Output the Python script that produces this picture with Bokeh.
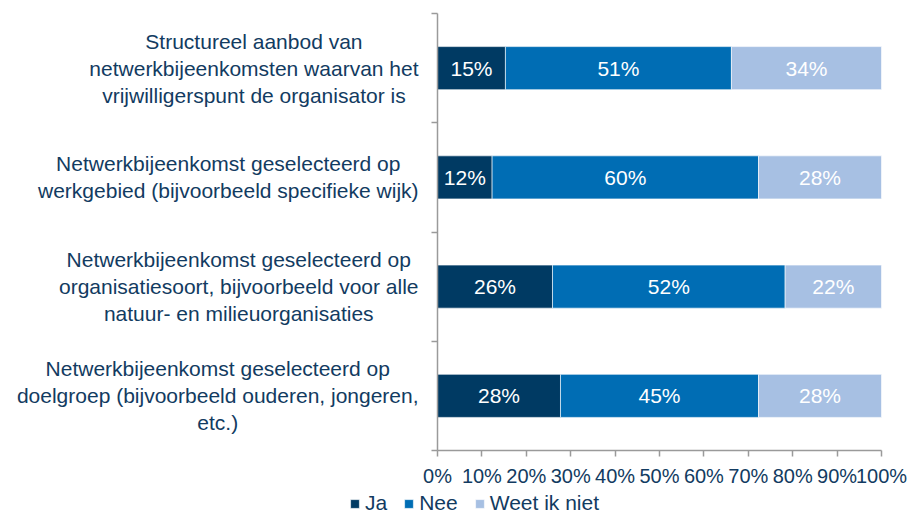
import numpy as np
from bokeh.plotting import figure
from bokeh.models import (ColumnDataSource, Range1d, LinearAxis, FixedTicker,
                          NumeralTickFormatter)
from bokeh.core.properties import value
from bokeh.embed import file_html
from bokeh.resources import INLINE

# ---------------- data ----------------
categories = [
    "Structureel aanbod van\nnetwerkbijeenkomsten waarvan het\nvrijwilligerspunt de organisator is",
    "Netwerkbijeenkomst geselecteerd op\nwerkgebied (bijvoorbeeld specifieke wijk)",
    "Netwerkbijeenkomst geselecteerd op\norganisatiesoort, bijvoorbeeld voor alle\nnatuur- en milieuorganisaties",
    "Netwerkbijeenkomst geselecteerd op\ndoelgroep (bijvoorbeeld ouderen, jongeren,\netc.)",
]
series_names = ["Ja", "Nee", "Weet ik niet"]
ja = [15.3, 12.3, 25.9, 27.7]
nee = [50.9, 60.0, 52.4, 44.6]
weet = [33.8, 27.7, 21.7, 27.7]
x_ticks = [0.0, 0.1, 0.2, 0.3, 0.4, 0.5, 0.6, 0.7, 0.8, 0.9, 1.0]

# ---------------- styles ----------------
colors = ["#003A63", "#006DB4", "#A7C0E3"]
text_color = "#123B61"
axis_color = "#9A9A9A"
font = "Liberation Sans"
cat_font_px = 21

W, H = 907, 515
X0_PX, PX_PER_UNIT = 437.0, 444.0      # pixel of 0% and pixels per 100%
Y0_PX, PX_PER_CAT = 450.0, 109.25      # pixel of axis bottom, pixels per category
LABEL_RIGHT_PX = 418.0                 # right edge of category label blocks

# approximate Arial/Liberation Sans advance widths (per 1000 em)
_w = {" ": 278, "(": 333, ")": 333, ",": 278, "-": 333, ".": 278,
      "a": 556, "b": 556, "c": 500, "d": 556, "e": 556, "f": 278, "g": 556,
      "h": 556, "i": 222, "j": 222, "k": 500, "l": 222, "m": 833, "n": 556,
      "o": 556, "p": 556, "q": 556, "r": 333, "s": 500, "t": 278, "u": 556,
      "v": 500, "w": 722, "x": 500, "y": 500, "z": 500, "N": 722, "S": 667}


def text_px(s, size):
    return sum(_w.get(c, 556) for c in s) / 1000.0 * size


n = len(categories)
ypos = [n - i - 0.5 for i in range(n)]

# centre of each label block so that its widest line ends at LABEL_RIGHT_PX
label_x = []
for c in categories:
    wmax = max(text_px(line, cat_font_px) for line in c.split("\n"))
    cx_px = LABEL_RIGHT_PX - wmax / 2
    label_x.append((cx_px - X0_PX) / PX_PER_UNIT)

source = ColumnDataSource(dict(
    y=ypos,
    ja=[v / 100 for v in ja],
    nee=[v / 100 for v in nee],
    weet=[v / 100 for v in weet],
    cat=categories,
    lx=label_x,
))

# labels in segment centres
lx, ly, lt = [], [], []
for j in range(n):
    vals = [ja[j], nee[j], weet[j]]
    cum = np.cumsum([0] + vals)
    for k, v in enumerate(vals):
        lx.append((cum[k] + v / 2) / 100)
        ly.append(ypos[j])
        lt.append(f"{round(v)}%")
lab_src = ColumnDataSource(dict(x=lx, y=ly, t=lt))

x_start = -X0_PX / PX_PER_UNIT
x_end = (W - X0_PX) / PX_PER_UNIT
y_start = -(H - Y0_PX) / PX_PER_CAT
y_end = Y0_PX / PX_PER_CAT

p = figure(width=W, height=H, output_backend="svg", toolbar_location=None,
           x_axis_type=None, y_axis_type=None,
           x_range=Range1d(x_start, x_end),
           y_range=Range1d(y_start, y_end),
           min_border=0, min_border_left=0, min_border_right=0,
           min_border_top=0, min_border_bottom=0)
p.outline_line_color = None
p.grid.visible = False
p.background_fill_color = "white"
p.border_fill_color = "white"

p.hbar_stack(["ja", "nee", "weet"], y="y", height=0.394, color=colors,
             line_color="white", line_width=0.6, source=source,
             legend_label=series_names)

p.text(x="x", y="y", text="t", source=lab_src, text_color="white",
       text_font=value(font), text_font_size="21px",
       text_align="center", text_baseline="middle")

p.text(x="lx", y="y", text="cat", source=source, text_color=text_color,
       text_font=value(font), text_font_size=f"{cat_font_px}px",
       text_line_height=1.17, text_align="center", text_baseline="middle")

xaxis = LinearAxis(fixed_location=0, bounds=(0, 1),
                   ticker=FixedTicker(ticks=x_ticks),
                   formatter=NumeralTickFormatter(format="0%"))
xaxis.axis_line_color = axis_color
xaxis.axis_line_width = 1.5
xaxis.major_tick_line_color = axis_color
xaxis.major_tick_line_width = 1.5
xaxis.major_tick_out = 6
xaxis.major_tick_in = 0
xaxis.minor_tick_line_color = None
xaxis.major_label_text_font = font
xaxis.major_label_text_font_size = "20px"
xaxis.major_label_text_color = text_color
xaxis.major_label_standoff = 8
p.add_layout(xaxis, "below")

yaxis = LinearAxis(fixed_location=0, bounds=(0, n),
                   ticker=FixedTicker(ticks=list(range(n + 1))))
yaxis.axis_line_color = axis_color
yaxis.axis_line_width = 1.5
yaxis.major_tick_line_color = axis_color
yaxis.major_tick_line_width = 1.5
yaxis.major_tick_out = 6
yaxis.major_tick_in = 0
yaxis.minor_tick_line_color = None
yaxis.major_label_text_font_size = "0px"
yaxis.major_label_text_alpha = 0
p.add_layout(yaxis, "left")

leg = p.legend[0]
leg.orientation = "horizontal"
leg.location = (349, 0)
leg.padding = 0
leg.margin = 0
leg.spacing = 16
leg.label_standoff = 5
leg.glyph_width = 11
leg.glyph_height = 11
leg.border_line_color = None
leg.background_fill_alpha = 0
leg.label_text_font = font
leg.label_text_font_size = "21px"
leg.label_text_color = text_color

open("out.html", "w").write(file_html(p, INLINE))
